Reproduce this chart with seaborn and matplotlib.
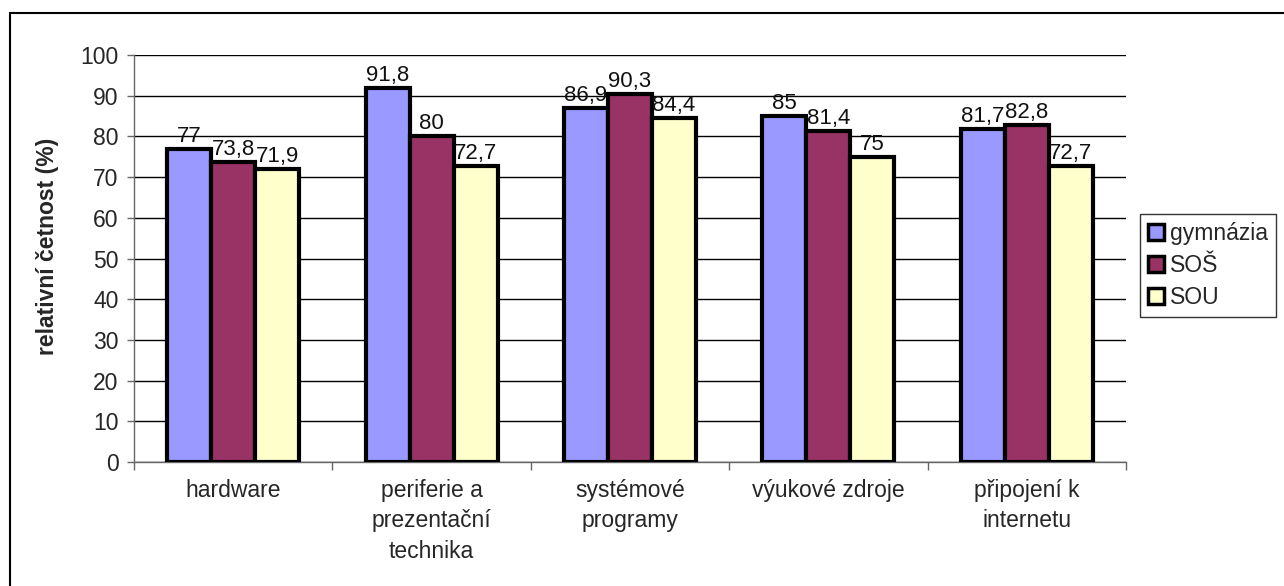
import pandas as pd
import numpy as np
import matplotlib.pyplot as plt
import matplotlib.patches as mpatches
import seaborn as sns

# ===== Data =====
categories = ['hardware', 'periferie a\nprezentační\ntechnika', 'systémové\nprogramy',
              'výukové zdroje', 'připojení k\ninternetu']
schools = ['gymnázia', 'SOŠ', 'SOU']
gymnazia = [77, 91.8, 86.9, 85, 81.7]
sos = [73.8, 80, 90.3, 81.4, 82.8]
sou = [71.9, 72.7, 84.4, 75, 72.7]
colors = ['#9999FF', '#993366', '#FFFFCC']

df = pd.DataFrame({
    'kategorie': categories * 3,
    'skola': [s for s in schools for _ in categories],
    'hodnota': gymnazia + sos + sou,
})

sns.set_style('white')
plt.rcParams['font.family'] = ['Liberation Sans', 'DejaVu Sans']

fig = plt.figure(figsize=(12.84, 5.86), dpi=100)
ax = fig.add_axes([134 / 1284, 1 - 462 / 586, (1126 - 134) / 1284, (462 - 55) / 586])

sns.barplot(data=df, x='kategorie', y='hodnota', hue='skola', order=categories,
            hue_order=schools, palette=colors, width=0.665, gap=0,
            edgecolor='black', linewidth=3, saturation=1, ax=ax, legend=False, zorder=3)

# value labels with decimal comma
for cont in ax.containers:
    ax.bar_label(cont, labels=[f'{v:g}'.replace('.', ',') for v in cont.datavalues],
                 fontsize=16, padding=1.5, color='#111111')

ax.set_ylim(0, 100)
ax.set_xlim(-0.5, 4.5)
ax.set_yticks(np.arange(0, 101, 10))
ax.yaxis.grid(True, color='black', linewidth=1, zorder=0)
ax.set_axisbelow(True)
ax.tick_params(axis='y', labelsize=16.5, length=5, width=1, color='#666666', left=True, pad=6)
ax.tick_params(axis='x', which='major', length=0, labelsize=16.5, pad=12)
for lbl in ax.get_xticklabels():
    lbl.set_linespacing(1.42)
ax.set_xticks(np.arange(-0.5, 5, 1), minor=True)
ax.tick_params(axis='x', which='minor', length=6, width=1, color='#666666', bottom=True)
ax.set_xlabel('')
ax.set_ylabel('relativní četnost (%)', fontsize=16.5, fontweight='bold')
ax.yaxis.set_label_coords(-0.076, 0.53)

for side in ['top', 'right']:
    ax.spines[side].set_visible(False)
for side in ['left', 'bottom']:
    ax.spines[side].set_color('#666666')
    ax.spines[side].set_linewidth(1)

# legend
handles = [mpatches.Patch(facecolor=c, edgecolor='black', linewidth=2.5, label=s)
           for c, s in zip(colors, schools)]
leg = fig.legend(handles=handles, loc='upper left', bbox_to_anchor=(1140 / 1284, 1 - 214 / 586),
                 fontsize=16.5, frameon=True, fancybox=False, edgecolor='black',
                 handlelength=0.7, handleheight=0.7, handletextpad=0.25,
                 borderpad=0.35, labelspacing=0.4, borderaxespad=0)
leg.get_frame().set_linewidth(1)

# outer chart frame
fig.add_artist(plt.Line2D([10 / 1284, 10 / 1284], [0, 1 - 13 / 586], color='black', linewidth=1.5))
fig.add_artist(plt.Line2D([10 / 1284, 1], [1 - 13 / 586, 1 - 13 / 586], color='black', linewidth=1.5))

fig.savefig('out.png', dpi=100)
